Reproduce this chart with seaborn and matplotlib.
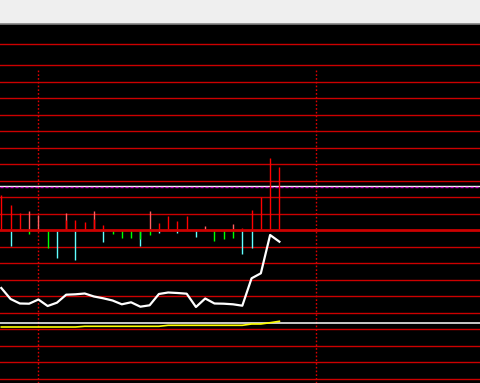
import numpy as np
import pandas as pd
import matplotlib
matplotlib.use("Agg")
import matplotlib.pyplot as plt
import seaborn as sns

nan = np.nan
# ---- data ----
idx = list(range(31))
up_red = [0.35, 0.25, 0.167, nan, nan, nan, nan, 0.10, 0.10, 0.08, 0.11, 0.05, nan, nan, nan, nan,
          nan, 0.07, 0.14, 0.09, 0.14, nan, nan, nan, nan, nan, 0.02, 0.20, 0.327, 0.72, 0.63]
up_salmon = [nan, nan, nan, 0.19, 0.15, nan, nan, 0.17, nan, nan, 0.19, nan, nan, nan, nan, nan,
             0.19, nan, nan, nan, nan, nan, 0.04, nan, nan, 0.06, nan, nan, nan, nan, nan]
down_cyan = [nan, -0.16, nan, nan, nan, nan, -0.277, nan, -0.30, nan, nan, -0.12, nan, nan, nan, -0.157,
             nan, -0.027, nan, -0.027, nan, -0.067, nan, nan, nan, nan, -0.237, -0.177, nan, nan, nan]
down_green = [nan, nan, nan, -0.037, -0.01, -0.177, nan, nan, nan, nan, nan, nan, -0.04, -0.077, -0.077, -0.09,
              -0.045, nan, nan, nan, nan, nan, nan, -0.107, -0.087, -0.077, nan, nan, nan, nan, nan]
white_line = [-0.58, -0.69, -0.735, -0.737, -0.695, -0.76, -0.727, -0.647, -0.643, -0.635, -0.665,
              -0.683, -0.705, -0.743, -0.723, -0.767, -0.753, -0.64, -0.625, -0.63, -0.637, -0.77,
              -0.685, -0.735, -0.737, -0.743, -0.757, -0.483, -0.433, -0.05, -0.117]
yellow_line = [-0.97] * 9 + [-0.963] * 9 + [-0.953] * 9 + [-0.94, -0.94, -0.927, -0.913]
grid_levels = [1.86, 1.65, 1.485, 1.32, 1.155, 0.99, 0.825, 0.66, 0.495, 0.33, 0.165,
               -0.165, -0.33, -0.495, -0.66, -0.825, -0.99, -1.155, -1.32, -1.485]
upper_ref = 0.437
upper_ref_dash = 0.427
lower_ref = -0.93
vmarks = [4, 34]

df = pd.DataFrame({"idx": idx, "white": white_line, "yellow": yellow_line})

plt.rcParams["lines.scale_dashes"] = False
fig = plt.figure(figsize=(4.81, 3.83), dpi=100, facecolor="#efefef")
ax = fig.add_axes([0, 0, 1, 359 / 383])
ax.set_facecolor("black")
ax.set_xlim(-0.14, 51.75)
ax.set_ylim(-1.53, 2.06)

for s in ["left", "right", "bottom"]:
    ax.spines[s].set_visible(False)
ax.spines["top"].set_color("#808080")
ax.spines["top"].set_linewidth(1.2)
ax.set_xticks([])
ax.set_yticks([])

# horizontal grid
for g in grid_levels:
    ax.axhline(g, color="#cc0000", lw=1.0, zorder=1)
ax.axhline(upper_ref, color="white", lw=1.0, zorder=2)
ax.axhline(upper_ref_dash, color="#cc00cc", lw=1.0, linestyle=(0, (2.2, 1.4)), zorder=2)
ax.axhline(lower_ref, color="white", lw=1.1, zorder=2)

# vertical dotted markers
ax.vlines(vmarks, -1.53, 1.62, colors="#dd0000", lw=1.0, linestyles=[(0, (1.2, 1.5))], zorder=1)

x = np.array(idx, dtype=float)
def bars(vals, color):
    v = np.array(vals, dtype=float)
    m = ~np.isnan(v)
    ax.vlines(x[m], 0, v[m], colors=color, lw=1.0, zorder=3)

bars(up_salmon, "#ff6060")
bars(up_red, "#ff0000")
bars(down_cyan, "#60ffff")
bars(down_green, "#00ff00")

ax.axhline(0, color="#cc0000", lw=2.0, zorder=4)

sns.lineplot(data=df, x="idx", y="yellow", ax=ax, color="#ffff00", lw=1.2, zorder=5)
sns.lineplot(data=df, x="idx", y="white", ax=ax, color="white", lw=1.6, zorder=6)
ax.set_xlabel("")
ax.set_ylabel("")
ax.set_xlim(-0.14, 51.75)
ax.set_ylim(-1.53, 2.06)

fig.savefig("out.png", dpi=100, facecolor=fig.get_facecolor())
